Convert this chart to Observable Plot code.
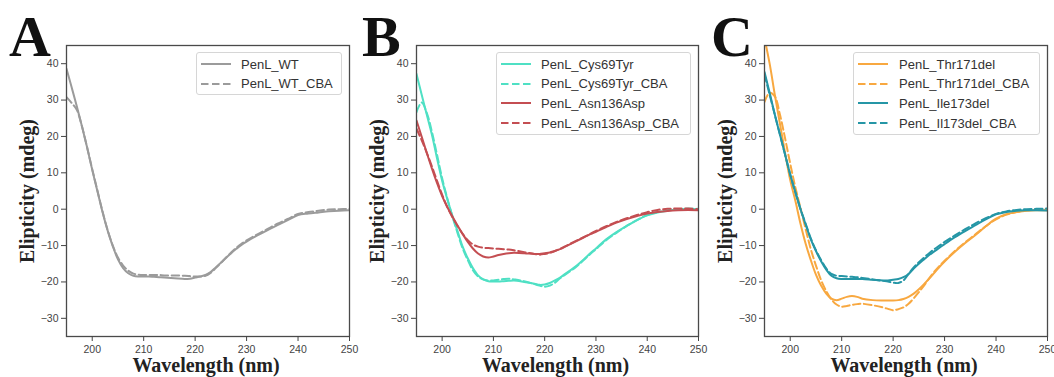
<!DOCTYPE html>
<html><head><meta charset="utf-8">
<script src="https://cdn.jsdelivr.net/npm/d3@7"></script>
<script src="https://cdn.jsdelivr.net/npm/@observablehq/plot@0.6"></script>
<style>
body{margin:0;background:#fff;}
#wrap{position:relative;width:1054px;height:377px;overflow:hidden;background:#fff;}
.panel{position:absolute;top:0;}
.letter{position:absolute;font-family:"Liberation Serif",serif;font-weight:bold;font-size:58px;line-height:40px;height:40px;color:#111;}
.legend{position:absolute;background:rgba(255,255,255,0.85);border:1px solid #d6d6d6;border-radius:3px;box-sizing:border-box;font-family:"Liberation Sans",Arial,sans-serif;font-size:13px;color:#333;}
.row{position:absolute;left:0;height:20px;display:flex;align-items:center;white-space:nowrap;}
</style></head><body><div id="wrap"></div>
<script>
// ---- data ----
const wavelength = [195,196,197,198,199,200,201,202,203,204,205,206,207,208,209,210,211,212,213,214,216,218,219,220,221,222,223,224,225,226,227,228,229,230,232,234,236,238,240,242,244,246,248,250];
const xTicks = [200,210,220,230,240,250];
const yTicks = [-30,-20,-10,0,10,20,30,40];

const wt = [38.6,33.5,28.3,22.8,17.0,10.8,5.0,-0.8,-5.9,-10.2,-13.8,-16.2,-17.6,-18.3,-18.5,-18.5, -18.5,-18.6,-18.7,-18.8, -19.0,-19.2,-19.1,-18.8,-18.5,-18.1, -17.3,-16.0,-14.7,-13.4,-12.1,-10.9,-9.8,-8.9, -7.3,-5.8,-4.4,-3.0,-1.6,-1.2,-0.9,-0.6,-0.4,-0.3];
const wtCBA = [30.8,29.2,27.3,22.8,17.0,11.0,5.2,-0.6,-5.8,-10.0,-13.3,-15.5,-16.9,-17.7,-18.0,-18.1, -18.1,-18.1,-18.1,-18.2, -18.2,-18.3,-18.4,-18.5,-18.5,-18.3, -17.5,-16.2,-14.8,-13.3,-11.9,-10.6,-9.5,-8.6, -7.0,-5.5,-4.0,-2.7,-1.3,-0.8,-0.4,-0.1,0.0,0.1];

const cys = [37.2,31.5,26.0,20.5,14.0,7.8,2.8,-1.8,-6.0,-10.3,-13.5,-16.2,-18.2,-19.3,-19.8,-19.9, -19.9,-19.8,-19.7,-19.6, -20.0,-20.5,-20.8,-20.7,-20.3,-19.6, -18.8,-17.8,-16.8,-15.8,-14.6,-13.3,-12.0,-10.8, -8.3,-6.3,-4.6,-3.0,-1.7,-0.9,-0.4,0.0,0.1,0.0];
const cysCBA = [26.7,29.3,26.5,21.3,15.0,8.5,3.0,-2.0,-6.5,-10.8,-14.0,-16.8,-18.5,-19.3,-19.6,-19.6, -19.4,-19.2,-19.1,-19.3, -19.8,-20.6,-21.0,-21.3,-21.0,-20.2, -19.0,-18.0,-17.0,-16.0,-14.8,-13.5,-12.2,-11.0, -8.5,-6.5,-4.6,-3.0,-1.6,-0.8,-0.3,0.0,0.1,0.1];
const asn = [24.4,20.0,15.5,11.2,7.2,3.6,0.6,-2.0,-4.5,-6.8,-9.0,-10.8,-12.2,-13.0,-13.3,-13.0, -12.6,-12.3,-12.1,-12.0, -12.1,-12.3,-12.3,-12.1,-11.9,-11.5, -11.0,-10.3,-9.6,-8.9,-8.2,-7.5,-6.8,-6.2, -4.9,-3.7,-2.7,-1.9,-1.2,-0.8,-0.5,-0.3,-0.2,-0.3];
const asnCBA = [22.1,19.0,15.5,11.8,7.8,4.0,0.6,-2.2,-4.6,-6.8,-8.5,-9.7,-10.3,-10.6,-10.7,-10.8, -10.9,-11.0,-11.1,-11.3, -11.8,-12.3,-12.5,-12.3,-12.0,-11.5, -10.9,-10.2,-9.5,-8.8,-8.1,-7.4,-6.7,-6.0, -4.7,-3.5,-2.5,-1.6,-0.8,-0.2,0.1,0.2,0.2,0.0];

const thr = [47.0,40.0,31.5,23.5,15.5,8.0,2.3,-4.0,-9.5,-14.0,-18.0,-21.0,-23.2,-24.6,-25.0,-24.6, -24.1,-23.9,-24.1,-24.6, -25.0,-25.1,-25.1,-25.1,-25.0,-24.7, -24.1,-23.2,-22.0,-20.6,-19.1,-17.5,-15.9,-14.4, -11.7,-9.3,-7.1,-4.7,-2.6,-1.4,-0.8,-0.4,-0.3,-0.3];
const thrCBA = [29.5,32.0,31.0,26.0,19.5,12.5,6.0,0.3,-5.5,-11.0,-15.5,-19.5,-22.5,-24.8,-26.2,-26.8, -26.6,-26.3,-26.1,-26.0, -26.4,-27.0,-27.4,-27.8,-27.5,-27.0, -26.0,-24.5,-22.8,-21.0,-19.0,-17.2,-15.6,-14.2, -11.5,-9.1,-6.9,-4.7,-2.8,-1.5,-0.8,-0.3,-0.1,0.0];
const ile = [37.7,32.0,26.0,20.5,15.0,9.5,4.8,0.0,-4.2,-8.3,-11.5,-14.3,-16.6,-18.3,-19.0,-19.2, -19.2,-19.2,-19.2,-19.2, -19.4,-19.6,-19.6,-19.4,-19.2,-18.7, -17.8,-16.3,-15.0,-13.8,-12.6,-11.6,-10.6,-9.6, -7.7,-6.0,-4.4,-2.8,-1.4,-0.8,-0.4,-0.3,-0.3,-0.4];
const ileCBA = [37.0,31.5,26.0,20.5,15.0,9.5,4.5,0.0,-4.0,-8.0,-11.3,-14.0,-16.3,-17.8,-18.3,-18.4, -18.5,-18.6,-18.7,-18.9, -19.3,-19.7,-19.9,-20.2,-20.3,-19.6, -17.8,-16.0,-14.6,-13.3,-12.1,-11.0,-10.0,-9.0, -7.2,-5.5,-3.9,-2.5,-1.3,-0.6,-0.2,0.0,0.1,0.2];

const namesA = ["PenL_WT","PenL_WT_CBA"];
const namesB = ["PenL_Cys69Tyr","PenL_Cys69Tyr_CBA","PenL_Asn136Asp","PenL_Asn136Asp_CBA"];
const namesC = ["PenL_Thr171del","PenL_Thr171del_CBA","PenL_Ile173del","PenL_Il173del_CBA"];
const xLabel = "Wavelength (nm)";
const yLabel = "Elipticity (mdeg)";

// ---- styling / layout ----
const GRAY = "#9b9b9b", TURQ = "#4fe0c4", RED = "#c44e52", ORANGE = "#f8a840", TEAL = "#2596a6";
const DASH = "7.5,3.5";

const panels = [
  {letter:"A", letterX:9, left:0, width:352, ml:66, mr:3,
   series:[{name:namesA[0], v:wt, c:GRAY, d:false},{name:namesA[1], v:wtCBA, c:GRAY, d:true}],
   legend:{x:196, y:52, w:146, h:43, textX:44}},
  {letter:"B", letterX:362, left:352, width:350, ml:64, mr:4,
   series:[{name:namesB[0], v:cys, c:TURQ, d:false},{name:namesB[1], v:cysCBA, c:TURQ, d:true},
           {name:namesB[2], v:asn, c:RED, d:false},{name:namesB[3], v:asnCBA, c:RED, d:true}],
   legend:{x:496, y:52, w:195, h:83, textX:44}},
  {letter:"C", letterX:711, left:702, width:352, ml:62, mr:7,
   series:[{name:namesC[0], v:thr, c:ORANGE, d:false},{name:namesC[1], v:thrCBA, c:ORANGE, d:true},
           {name:namesC[2], v:ile, c:TEAL, d:false},{name:namesC[3], v:ileCBA, c:TEAL, d:true}],
   legend:{x:853, y:52, w:187, h:83, textX:45}}
];

const minus = d => d < 0 ? "\u2212" + Math.abs(d) : String(d);
const wrap = document.getElementById("wrap");
const serif = "Liberation Serif, serif";

for (const p of panels) {
  const marks = [];
  for (const s of p.series) {
    const rows = wavelength.map((w, i) => ({w, v: s.v[i]}));
    marks.push(Plot.line(rows, {x:"w", y:"v", stroke:s.c, strokeWidth:2, clip:true,
      curve:"catmull-rom", strokeDasharray: s.d ? DASH : null}));
  }
  marks.push(
    Plot.frame({stroke:"#4a4a4a", strokeWidth:1.3}),
    Plot.axisX({ticks:xTicks, tickSize:5, tickPadding:4, fontSize:10.5, color:"#444", label:null}),
    Plot.axisY({ticks:yTicks, tickSize:5, tickPadding:3, fontSize:10.5, color:"#444", label:null, tickFormat:minus}),
    Plot.text([xLabel], {text:d=>d, frameAnchor:"bottom", textAnchor:"middle", lineAnchor:"middle", dy:29.5, dx:-2, fontFamily:serif, fontWeight:"bold", fontSize:20, fill:"#222"}),
    Plot.text([yLabel], {text:d=>d, frameAnchor:"left", textAnchor:"middle", lineAnchor:"middle", dx:-39, rotate:-90, fontFamily:serif, fontWeight:"bold", fontSize:20, fill:"#222"})
  );
  const chart = Plot.plot({
    width:p.width, height:377, marginLeft:p.ml, marginRight:p.mr, marginTop:45, marginBottom:41,
    style:{background:"transparent", overflow:"visible", fontFamily:"Liberation Sans, Arial, sans-serif", fontSize:"10.5px"},
    x:{domain:[195,250]}, y:{domain:[-35,45]},
    marks
  });
  const holder = document.createElement("div");
  holder.className = "panel";
  holder.style.left = p.left + "px";
  holder.appendChild(chart);
  wrap.appendChild(holder);

  const L = document.createElement("div");
  L.className = "letter";
  L.textContent = p.letter;
  L.style.left = p.letterX + "px";
  L.style.top = "17px";
  wrap.appendChild(L);

  const lg = document.createElement("div");
  lg.className = "legend";
  Object.assign(lg.style, {left:p.legend.x+"px", top:p.legend.y+"px", width:p.legend.w+"px", height:p.legend.h+"px"});
  p.series.forEach((s, i) => {
    const r = document.createElement("div");
    r.className = "row";
    r.style.top = (1 + i * 19.7) + "px";
    r.innerHTML = `<svg width="${p.legend.textX}" height="20"><line x1="4" x2="34" y1="10" y2="10" stroke="${s.c}" stroke-width="2" ${s.d ? `stroke-dasharray="${DASH}"` : ""}/></svg><span>${s.name}</span>`;
    lg.appendChild(r);
  });
  wrap.appendChild(lg);
}
</script></body></html>
